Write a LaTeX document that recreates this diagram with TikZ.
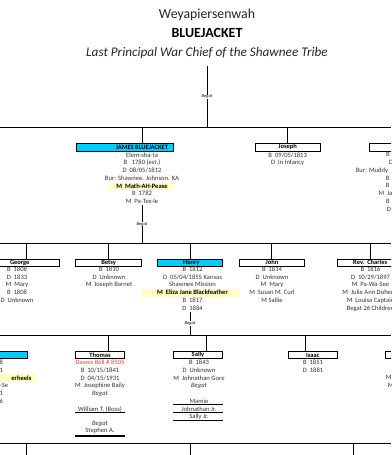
\documentclass[tikz,border=0pt]{standalone}
\usepackage{fontspec}
\setmainfont{Carlito}
\definecolor{boxcyan}{HTML}{00CCFF}
\definecolor{hl}{HTML}{FFFFC4}
\definecolor{dawes}{HTML}{FF3B3B}
\definecolor{txt}{HTML}{333333}
\begin{document}
\begin{tikzpicture}[x=1pt,y=-1pt,
  link/.style={line width=0.8pt},
  pbox/.style={draw, line width=0.85pt, minimum height=7.5pt, inner sep=0pt, font=\fontsize{6.5}{7}\selectfont\bfseries},
  cbox/.style={pbox, fill=boxcyan},
  info/.style={align=center, inner sep=0pt, anchor=north, text=txt, font=\fontsize{6.6}{7.75}\selectfont},
  frag/.style={inner sep=0pt, text=txt, font=\fontsize{6.6}{7.75}\selectfont},
  begat/.style={inner sep=0.4pt, fill=white, font=\fontsize{4.5}{5}\selectfont\itshape},
  hlbox/.style={fill=hl, draw=none},
  uline/.style={line width=1.1pt},
  thinline/.style={line width=0.7pt}
]
\useasboundingbox (0,0) rectangle (391,455);
\clip (0,0) rectangle (391,455);

% title
\node[font=\fontsize{13.8}{15}\selectfont, text=black!85] (t1) at (207,15) {Weyapiersenwah};
\node[font=\fontsize{14}{15}\selectfont\bfseries] (t2) at (207,33) {BLUEJACKET};
\node[font=\fontsize{13.2}{15}\selectfont\itshape, text=black!85] (t3) at (207,53) {Last Principal War Chief of the Shawnee Tribe};

% highlights
\fill[hl] (107.7,183.2) rectangle (173.3,189.6);
\fill[hl] (141.7,289.4) rectangle (239.3,296.6);
\fill[hl] (-5,374.3) rectangle (36,381.7);

% bus coordinates
\coordinate (topA) at (207,66);
\coordinate (b1L) at (0,127.7);
\coordinate (b1R) at (391,127.7);
\coordinate (b1a) at (142,127.7);
\coordinate (b1b) at (207,127.7);
\coordinate (b1c) at (287.7,127.7);
\draw[link] (topA) -- node[begat]{Begat} (b1b);
\draw[link] (b1L) -- (b1R);

% row 1
\node[cbox, minimum width=97pt, minimum height=8pt] (james) at (124.5,147) {\hspace*{35pt}JAMES BLUEJACKET};
\node[pbox, minimum width=64.7pt, minimum height=8pt] (joseph) at (287.7,147) {Joseph};
\node[pbox, minimum width=65pt, minimum height=8pt] (r1right) at (402,147) {};
\draw[link] (b1a) -- (b1a |- james.north);
\draw[link] (b1c) -- (joseph.north);

\node[info] (jamesinfo) at (142,152.3) {Elem-sha-ta\\B\ \ \ 1780 (est.)\\D\ \ 08/05/1812\\Bur: Shawnee. Johnson. KA\\\textbf{\color{black}M\ \ Math-AH-Pease}\\B\ \ 1782\\M\ \ Pa-Tex-le};
\node[info] (josephinfo) at (287.7,152.3) {B\ \ 09/05/1813\\D\ \ In Infancy};

\node[frag, anchor=west] (r1f1) at (386,154.7) {B};
\node[frag, anchor=west] (r1f2) at (389,162.7) {D};
\node[frag, anchor=west] (r1f3) at (355.7,170.7) {Bur: Muddy};
\node[frag, anchor=west] (r1f4) at (385.7,177.9) {B};
\node[frag, anchor=west] (r1f5) at (385.7,185.5) {B};
\node[frag, anchor=west] (r1f6) at (378.3,193.3) {M\ \ Ja};
\node[frag, anchor=west] (r1f7) at (386,201) {B};
\node[frag, anchor=west] (r1f8) at (386.7,209.3) {D};

% James begat
\coordinate (jbA) at (142,205);
\coordinate (b2L) at (0,243.3);
\coordinate (b2R) at (391,243.3);
\coordinate (b2j) at (142,243.3);
\draw[link] (jbA) -- node[begat]{Begat} (b2j);
\draw[link] (b2L) -- (b2R);
\coordinate (b2a) at (26.7,243.3);
\coordinate (b2b) at (108.3,243.3);
\coordinate (b2c) at (190,243.3);
\coordinate (b2d) at (271.7,243.3);
\coordinate (b2e) at (370,243.3);

% row 2
\node[pbox, minimum width=79pt, minimum height=7pt] (george) at (19.8,262.6) {George};
\node[pbox, minimum width=66pt, minimum height=7pt] (betsy) at (108.7,262.6) {Betsy};
\node[cbox, minimum width=65pt, minimum height=7pt] (henry) at (189.8,262.6) {\hspace*{3pt}Henry};
\node[pbox, minimum width=65.4pt, minimum height=7pt] (john) at (272,262.6) {John};
\node[pbox, minimum width=65pt, minimum height=7pt] (charles) at (370.2,262.6) {Rev.\ \ Charles};
\draw[link] (b2a) -- (b2a |- george.north);
\draw[link] (b2b) -- (b2b |- betsy.north);
\draw[link] (b2c) -- (b2c |- henry.north);
\draw[link] (b2d) -- (b2d |- john.north);
\draw[link] (b2e) -- (b2e |- charles.north);

\node[info] (georgeinfo) at (17,266.7) {B\ \ 1808\\D\ \ 1833\\M\ \ Mary\\B\ \ 1808\\D\ \ Unknown};
\node[info] (betsyinfo) at (109,266.7) {B\ \ 1810\\D\ \ Unknown\\M\ \ Joseph Barnet};
\node[info] (henryinfo) at (192.5,266.7) {B\ \ 1812\\D\ \ 05/04/1855 Kansas\\Shawnee Mission\\\textbf{\color{black}M\ \ Eliza Jane Blackfeather}\\B\ \ 1817\\D\ \ 1884};
\node[info] (johninfo) at (272,266.7) {B\ \ 1814\\D\ \ Unknown\\M\ \ Mary\\M\ \ Susan M. Curl\\M Sallie};
\node[info] (charlesinfo) at (370.5,266.7) {B\ \ 1816\\D\ \ 10/29/1897\\M\ \ Pa-Wa-See\\M\ \ Julie Ann Doherty\\M\ \ Louisa Captain\\Begat 26 Children};

% Henry begat
\coordinate (hbA) at (190,311.7);
\coordinate (b3L) at (0,335.5);
\coordinate (b3R) at (391,335.5);
\coordinate (b3h) at (190,335.5);
\draw[link] (hbA) -- node[begat]{Begat} (b3h);
\draw[link] (b3L) -- (b3R);
\coordinate (b3a) at (108.3,335.5);
\coordinate (b3b) at (206,335.5);
\coordinate (b3c) at (305,335.5);

% row 3
\node[cbox, minimum width=64.6pt, minimum height=6.8pt] (r3left) at (-5,355) {};
\node[pbox, minimum width=48.6pt, minimum height=6.8pt] (thomas) at (100,355) {Thomas};
\node[pbox, minimum width=49.4pt, minimum height=6.8pt] (sally) at (198,355) {Sally};
\node[pbox, minimum width=49pt, minimum height=6.8pt] (isaac) at (312.8,355) {Isaac};
\node[pbox, minimum width=49pt, minimum height=6.8pt] (r3right) at (409.5,355) {};
\draw[link] (b3a) -- (b3a |- thomas.north);
\draw[link] (b3b) -- (b3b |- sally.north);
\draw[link] (b3c) -- (b3c |- isaac.north);

\node[frag, anchor=east] (l1) at (3.2,362.7) {8};
\node[frag, anchor=east] (l2) at (3.2,370.2) {1};
\node[frag, anchor=east, text=black] (l3) at (31.7,377.9) {\bfseries erheels};
\node[frag, anchor=east] (l4) at (8.3,385.7) {-Se};
\node[frag, anchor=east] (l5) at (3.2,393.2) {1};
\node[frag, anchor=east] (l6) at (3.2,400.8) {6};

\node[info] (thomasinfo) at (100,359.8) {\textcolor{dawes}{Dawes Roll \# 8505}\\B\ \ 10/15/1841\\D\ \ 04/15/1931\\M\ \ Josephine Baily\\\textit{Begat}\\[7.75pt]William T. (Boss)};
\node[info] (thomasinfo2) at (100,420.7) {\textit{Begat}\\Stephen A.};
\draw[uline] (75,412.3) -- (125,412.3);
\draw[uline] (75,436) -- (125,436);

\node[info] (sallyinfo) at (199,359.8) {B\ \ 1843\\D\ \ Unknown\\M\ \ Johnathan Gore\\\textit{Begat}\\[7.75pt]Mamie\\Johnathan Jr.\\Sally Jr.};
\draw[uline] (173,404.3) -- (223,404.3);
\draw[uline] (173,412.3) -- (223,412.3);
\draw[thinline] (173,420) -- (223,420);

\node[info] (isaacinfo) at (313,359.8) {B\ \ 1851\\D\ \ 1881};

\node[frag, anchor=west] (rr1) at (385.7,377.5) {M};
\node[frag, anchor=west] (rr2) at (387.7,385.2) {M};

% row 4
\coordinate (b4L) at (0,443.3);
\coordinate (b4R) at (391,443.3);
\draw[link] (b4L) -- (b4R);
\coordinate (b4a) at (26.7,443.3);
\coordinate (b4b) at (190,443.3);
\coordinate (b4c) at (353.3,443.3);
\coordinate (e4a) at (26.7,456);
\coordinate (e4b) at (190,456);
\coordinate (e4c) at (353.3,456);
\draw[link] (b4a) -- (e4a);
\draw[link] (b4b) -- (e4b);
\draw[link] (b4c) -- (e4c);
\end{tikzpicture}
\end{document}
